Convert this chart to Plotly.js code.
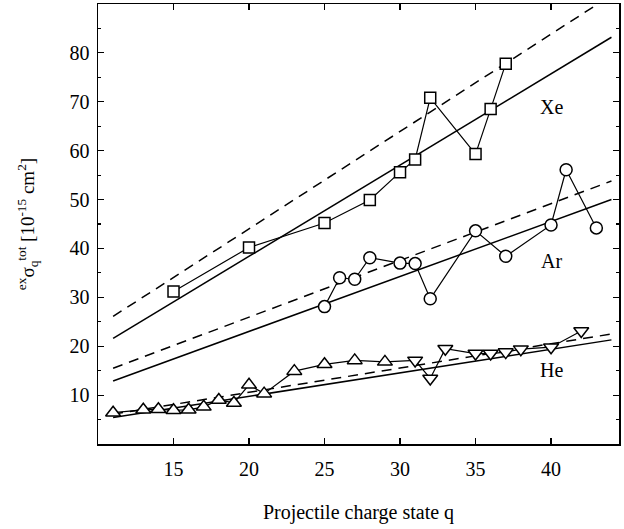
<!DOCTYPE html>
<html><head><meta charset="utf-8">
<script src="https://cdn.plot.ly/plotly-3.0.1.min.js"></script>
<style>html,body{margin:0;padding:0;background:#fff}#chart{width:624px;height:529px}</style>
</head><body><div id="chart"></div>
<script>
// Xe (squares)
const xeQ = [15, 20, 25, 28, 30, 31, 32, 35, 36, 37];
const xeV = [31.2, 40.2, 45.2, 49.9, 55.6, 58.2, 70.8, 59.3, 68.5, 77.8];
// Ar (circles)
const arQ = [25, 26, 27, 28, 30, 31, 32, 35, 37, 40, 41, 43];
const arV = [28.1, 34.0, 33.7, 38.1, 37.0, 36.9, 29.7, 43.6, 38.4, 44.8, 56.1, 44.2];
// He (up triangles, then down triangles)
const heQ = [11, 13, 14, 15, 16, 17, 18, 19, 20, 21, 23, 25, 27, 29, 31, 32, 33, 35, 36, 37, 38, 40, 42];
const heV = [6.4, 7.0, 7.1, 6.9, 7.0, 7.6, 9.0, 8.4, 12.1, 10.3, 14.9, 16.3, 17.1, 16.8, 17.1, 13.4, 19.5, 18.5, 18.5, 18.8, 19.4, 19.8, 23.1];
const heSym = ['triangle-up','triangle-up','triangle-up','triangle-up','triangle-up','triangle-up','triangle-up','triangle-up','triangle-up','triangle-up','triangle-up','triangle-up','triangle-up','triangle-up',
  'triangle-down','triangle-down','triangle-down','triangle-down','triangle-down','triangle-down','triangle-down','triangle-down','triangle-down'];
// Model curves (endpoints)
const fitQ = [11, 44];
const xeSolid = [21.6, 83.2];
const xeDash = [26.1, 91.8];
const arSolid = [12.9, 50.0];
const arDash = [15.5, 53.8];
const heSolid = [5.4, 21.3];
const heDash = [6.1, 22.5];
// Labels
const labelText = ['Xe', 'Ar', 'He'];
const labelQ = [40, 40, 40];
const labelV = [68.9, 37.5, 15.1];

const blk = '#000';
function fit(y, dash) {
  return {x: fitQ, y: y, mode: 'lines', line: {color: blk, width: 1.5, dash: dash ? '10px,7px' : 'solid'}, hoverinfo: 'skip'};
}
const mk = (sym, size) => ({symbol: sym, size: size, color: '#fff', line: {color: blk, width: 1.5}});
const traces = [
  fit(xeSolid, false), fit(xeDash, true),
  fit(arSolid, false), fit(arDash, true),
  fit(heSolid, false), fit(heDash, true),
  {x: xeQ, y: xeV, mode: 'lines+markers', line: {color: blk, width: 1.2}, marker: mk('square', 11)},
  {x: arQ, y: arV, mode: 'lines+markers', line: {color: blk, width: 1.2}, marker: mk('circle', 12)},
  {x: heQ, y: heV, mode: 'lines+markers', line: {color: blk, width: 1.2}, marker: mk(heSym, 13)}
];
const font = {family: '"Liberation Serif", "Times New Roman", serif', color: blk};
const layout = {
  width: 624, height: 529,
  margin: {l: 98, r: 5, t: 4, b: 85},
  paper_bgcolor: '#fff', plot_bgcolor: '#fff',
  showlegend: false,
  font: Object.assign({size: 20}, font),
  xaxis: {
    range: [10, 44.5], tickvals: [15, 20, 25, 30, 35, 40],
    ticks: 'inside', ticklen: 6, tickwidth: 1.2, tickcolor: blk,
    showline: true, linecolor: blk, linewidth: 1.5, mirror: 'ticks',
    showgrid: false, zeroline: false,
    tickfont: Object.assign({size: 20}, font), ticklabelstandoff: 6,
    title: {text: 'Projectile charge state q', font: Object.assign({size: 20}, font), standoff: 26}
  },
  yaxis: {
    range: [0, 90], tickvals: [10, 20, 30, 40, 50, 60, 70, 80],
    ticks: 'inside', ticklen: 6, tickwidth: 1.2, tickcolor: blk,
    minor: {tickvals: [5, 15, 25, 35, 45, 55, 65, 75, 85], ticks: 'inside', ticklen: 3, tickcolor: blk, tickwidth: 1.2},
    showline: true, linecolor: blk, linewidth: 1.5, mirror: 'ticks',
    showgrid: false, zeroline: false,
    tickfont: Object.assign({size: 20}, font), ticklabelstandoff: 3,
    title: {text: '<sup>ex</sup>σ<sub>q</sub><sup>tot</sup> [10<sup>-15</sup> cm<sup>2</sup>]', font: Object.assign({size: 19}, font), standoff: 30}
  },
  annotations: labelText.map((t, i) => ({x: labelQ[i], y: labelV[i], text: t, showarrow: false, font: Object.assign({size: 20}, font)}))
};
Plotly.newPlot('chart', traces, layout, {staticPlot: true});
</script></body></html>
